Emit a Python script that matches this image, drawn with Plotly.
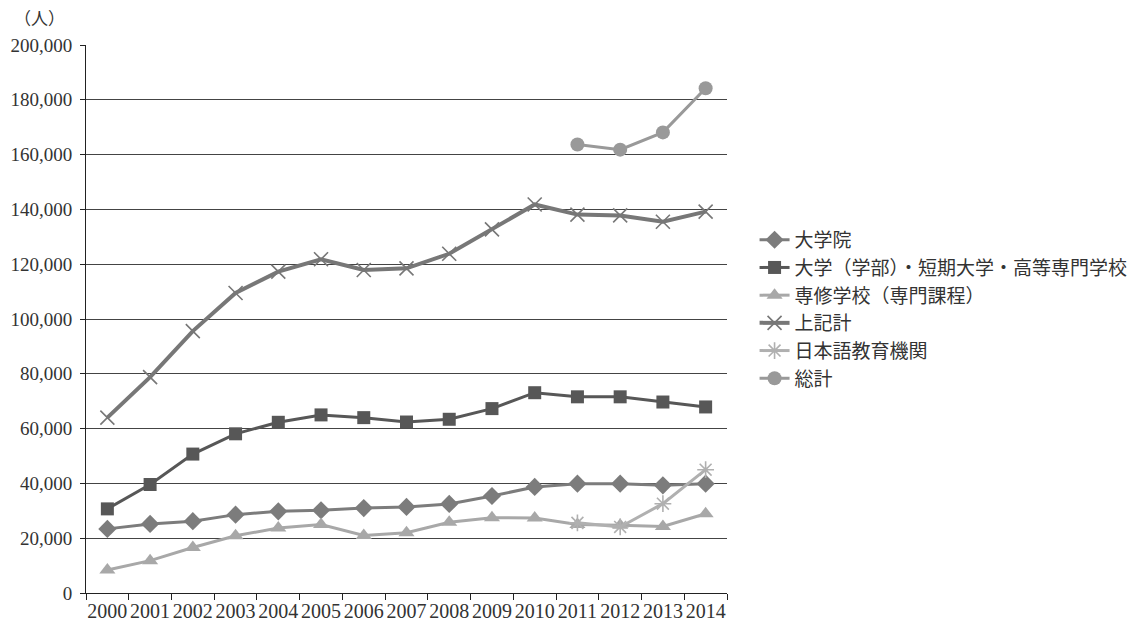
import plotly.graph_objects as go

years = [str(y) for y in range(2000, 2015)]
years_late = ["2011", "2012", "2013", "2014"]

graduate = [23400, 25200, 26200, 28600, 29800, 30200, 31000, 31400, 32500, 35400, 38700, 39900, 39900, 39300, 39900]
undergrad = [30700, 39600, 50700, 58100, 62300, 65000, 64000, 62400, 63400, 67300, 73100, 71600, 71600, 69700, 67900]
vocational = [8400, 11800, 16600, 20900, 23700, 25000, 21000, 22000, 25800, 27500, 27400, 25000, 24700, 24300, 28900]
subtotal = [64000, 78800, 95600, 109500, 117300, 121800, 117900, 118500, 123800, 132700, 141800, 138100, 137800, 135500, 139200]
japanese_school = [25600, 24100, 32600, 45000]
grand_total = [163700, 161800, 168100, 184200]

names = ["大学院", "大学（学部）・短期大学・高等専門学校", "専修学校（専門課程）", "上記計", "日本語教育機関", "総計"]

fig = go.Figure()

def add(x, y, name, color, symbol, size, lw, mline=0):
    fig.add_trace(go.Scatter(
        x=x, y=y, name=name, mode="lines+markers",
        line=dict(color=color, width=lw),
        marker=dict(symbol=symbol, size=size, color=color,
                    line=dict(color=color, width=mline)),
        legendgroup=name,
    ))

add(years, graduate, names[0], "#7c7c7c", "diamond", 14, 3)
add(years, undergrad, names[1], "#575757", "square", 13, 3)
add(years, vocational, names[2], "#a8a8a8", "triangle-up", 14, 3)
add(years, subtotal, names[3], "#777777", "x-thin-open", 14, 4, 1.6)
add(years_late, japanese_school, names[4], "#b0b0b0", "asterisk-open", 14, 3, 1.6)
add(years_late, grand_total, names[5], "#999999", "circle", 14, 3)

serif = "Liberation Serif, DejaVu Serif, serif"
cjk = "Noto Sans CJK JP, sans-serif"

fig.update_layout(
    width=1145, height=624,
    margin=dict(l=86, r=415, t=45, b=31),
    paper_bgcolor="white", plot_bgcolor="white",
    showlegend=True,
    legend=dict(x=1.043, xanchor="left", y=0.679, yanchor="top",
                font=dict(family=cjk, size=19, color="#333333"),
                tracegroupgap=0, bgcolor="rgba(0,0,0,0)"),
    xaxis=dict(type="category", range=[-0.5, 14.5], tickangle=0, automargin=False,
               tickson="boundaries", ticks="outside", ticklen=6, tickcolor="#222",
               showline=True, linecolor="#222", linewidth=1, showgrid=False,
               tickfont=dict(family=serif, size=20, color="#333")),
    yaxis=dict(range=[0, 200000], dtick=20000, tickformat=",", automargin=False,
               ticks="outside", ticklen=5, tickcolor="#222", ticklabelstandoff=4,
               showline=True, linecolor="#222", linewidth=1,
               showgrid=True, gridcolor="#444444", gridwidth=1,
               zeroline=False,
               tickfont=dict(family=serif, size=19, color="#333")),
    annotations=[dict(text="（人）", x=-0.115, xref="paper", y=1.0, yref="paper",
                      yanchor="bottom", xanchor="left", showarrow=False, yshift=13,
                      font=dict(family=cjk, size=17, color="#333"))],
)

fig.write_html("out.html")
